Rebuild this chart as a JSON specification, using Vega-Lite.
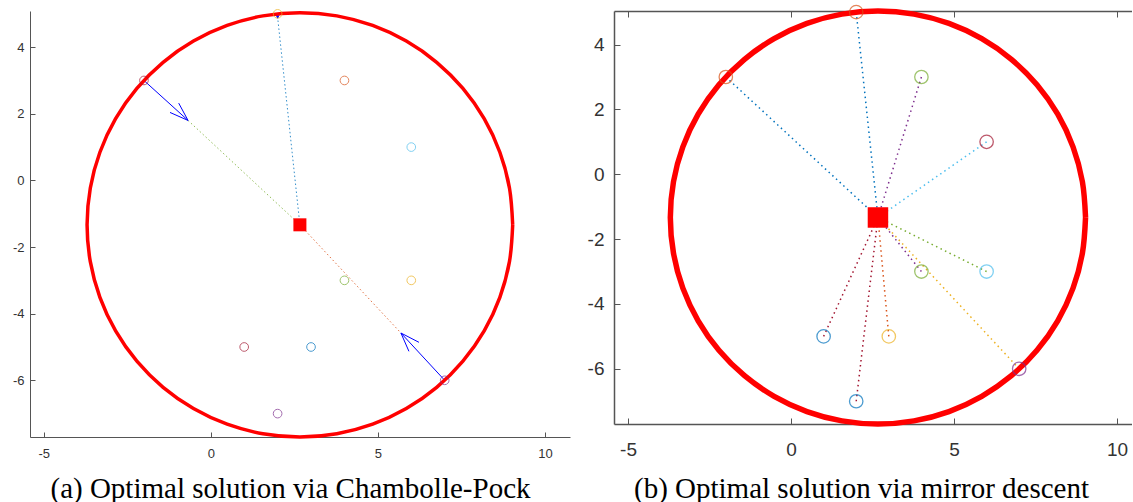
{
  "$schema": "https://vega.github.io/schema/vega-lite/v6.json",
  "padding": {"left": 12, "top": 0, "right": 0, "bottom": 0},
  "background": "white",
  "spacing": 17,
  "config": {"view": {"stroke": null}, "axis": {"grid": false}},
  "datasets": {
    "circle": [
      {"i": 0, "x": 9.035, "y": -1.333}, {"i": 1, "x": 8.938, "y": -0.227}, {"i": 2, "x": 8.651, "y": 0.845},
      {"i": 3, "x": 8.182, "y": 1.851}, {"i": 4, "x": 7.545, "y": 2.760}, {"i": 5, "x": 6.760, "y": 3.545},
      {"i": 6, "x": 5.851, "y": 4.182}, {"i": 7, "x": 4.845, "y": 4.651}, {"i": 8, "x": 3.773, "y": 4.938},
      {"i": 9, "x": 2.667, "y": 5.035}, {"i": 10, "x": 1.561, "y": 4.938}, {"i": 11, "x": 0.489, "y": 4.651},
      {"i": 12, "x": -0.518, "y": 4.182}, {"i": 13, "x": -1.427, "y": 3.545}, {"i": 14, "x": -2.212, "y": 2.760},
      {"i": 15, "x": -2.848, "y": 1.851}, {"i": 16, "x": -3.318, "y": 0.845}, {"i": 17, "x": -3.605, "y": -0.227},
      {"i": 18, "x": -3.702, "y": -1.333}, {"i": 19, "x": -3.605, "y": -2.439}, {"i": 20, "x": -3.318, "y": -3.511},
      {"i": 21, "x": -2.848, "y": -4.518}, {"i": 22, "x": -2.212, "y": -5.427}, {"i": 23, "x": -1.427, "y": -6.212},
      {"i": 24, "x": -0.518, "y": -6.848}, {"i": 25, "x": 0.489, "y": -7.318}, {"i": 26, "x": 1.561, "y": -7.605},
      {"i": 27, "x": 2.667, "y": -7.702}, {"i": 28, "x": 3.773, "y": -7.605}, {"i": 29, "x": 4.845, "y": -7.318},
      {"i": 30, "x": 5.851, "y": -6.848}, {"i": 31, "x": 6.760, "y": -6.212}, {"i": 32, "x": 7.545, "y": -5.427},
      {"i": 33, "x": 8.182, "y": -4.518}, {"i": 34, "x": 8.651, "y": -3.511}, {"i": 35, "x": 8.938, "y": -2.439},
      {"i": 36, "x": 9.035, "y": -1.333}
    ],
    "points": [
      {"x": -2, "y": 3, "ca": 7, "cb": 2, "lb": 1},
      {"x": 2, "y": 5, "ca": 3, "cb": 2, "lb": 1},
      {"x": 4, "y": 3, "ca": 2, "cb": 5, "lb": 4},
      {"x": 6, "y": 1, "ca": 6, "cb": 7, "lb": 6},
      {"x": 4, "y": -3, "ca": 5, "cb": 5, "lb": 4},
      {"x": 6, "y": -3, "ca": 3, "cb": 6, "lb": 5},
      {"x": 1, "y": -5, "ca": 7, "cb": 1, "lb": 7},
      {"x": 3, "y": -5, "ca": 1, "cb": 3, "lb": 2},
      {"x": 7, "y": -6, "ca": 4, "cb": 4, "lb": 3},
      {"x": 2, "y": -7, "ca": 4, "cb": 1, "lb": 7}
    ],
    "center": [{"x": 2.667, "y": -1.333}],
    "left_dots": [
      {"x": 2.667, "y": -1.333, "x2": 2.0, "y2": 4.9, "c": 1},
      {"x": -0.68, "y": 1.8, "x2": 2.667, "y2": -1.333, "c": 5},
      {"x": 2.667, "y": -1.333, "x2": 5.69, "y2": -4.58, "c": 2}
    ],
    "left_arrows": [
      {"x": -2, "y": 3, "x2": -0.68, "y2": 1.8},
      {"x": -0.68, "y": 1.8, "x2": -1.22, "y2": 2.04},
      {"x": -0.68, "y": 1.8, "x2": -0.96, "y2": 2.32},
      {"x": 7, "y": -6, "x2": 5.69, "y2": -4.58},
      {"x": 5.69, "y": -4.58, "x2": 6.23, "y2": -4.86},
      {"x": 5.69, "y": -4.58, "x2": 5.93, "y2": -5.13},
      {"x": 2.0, "y": 5.0, "x2": 2.0, "y2": 4.87},
      {"x": 2.0, "y": 4.87, "x2": 1.95, "y2": 4.98},
      {"x": 2.0, "y": 4.87, "x2": 2.05, "y2": 4.98}
    ]
  },
  "hconcat": [
    {
      "width": 540,
      "height": 426,
      "encoding": {
        "x": {
          "field": "x", "type": "quantitative",
          "scale": {"domain": [-5.41, 10.75], "nice": false, "zero": false},
          "axis": {
            "values": [-5, 0, 5, 10], "tickSize": -5, "domainColor": "#555", "tickColor": "#555",
            "labelExpr": "(datum.value < 0 ? '-' : '') + abs(datum.value)",
            "labelFont": "Liberation Sans", "labelFontSize": 13, "labelColor": "#333", "labelPadding": 15,
            "title": "(a) Optimal solution via Chambolle-Pock",
            "titleFont": "Liberation Serif", "titleFontSize": 29, "titleFontWeight": "normal", "titleColor": "#000",
            "titleX": 260, "titleY": 60, "titleBaseline": "alphabetic", "titleAlign": "center", "titleAnchor": null
          }
        },
        "y": {
          "field": "y", "type": "quantitative",
          "scale": {"domain": [-7.702, 5.085], "nice": false, "zero": false},
          "axis": {
            "values": [-6, -4, -2, 0, 2, 4], "tickSize": -5, "domainColor": "#555", "tickColor": "#555",
            "labelExpr": "(datum.value < 0 ? '-' : '') + abs(datum.value)",
            "labelFont": "Liberation Sans", "labelFontSize": 13, "labelColor": "#333", "labelPadding": 11,
            "title": null
          }
        }
      },
      "layer": [
        {
          "data": {"name": "left_dots"},
          "mark": {"type": "rule", "strokeDash": [1.5, 2.5], "strokeWidth": 1, "opacity": 0.8},
          "encoding": {
            "x2": {"field": "x2"}, "y2": {"field": "y2"},
            "color": {"field": "c", "type": "nominal", "legend": null,
              "scale": {"domain": [1, 2, 3, 4, 5, 6, 7], "range": ["#0072BD", "#D95319", "#EDB120", "#7E2F8E", "#77AC30", "#4DBEEE", "#A2142F"]}}
          }
        },
        {
          "data": {"name": "left_arrows"},
          "mark": {"type": "rule", "strokeWidth": 1, "color": "#0000FF"},
          "encoding": {"x2": {"field": "x2"}, "y2": {"field": "y2"}}
        },
        {
          "data": {"name": "circle"},
          "mark": {"type": "line", "color": "#FF0000", "strokeWidth": 3.5, "interpolate": "cardinal"},
          "encoding": {"order": {"field": "i", "type": "quantitative"}}
        },
        {
          "data": {"name": "points"},
          "mark": {"type": "point", "shape": "circle", "filled": false, "size": 75, "strokeWidth": 1},
          "encoding": {
            "color": {"field": "ca", "type": "nominal", "legend": null,
              "scale": {"domain": [1, 2, 3, 4, 5, 6, 7], "range": ["#0072BD", "#D95319", "#EDB120", "#7E2F8E", "#77AC30", "#4DBEEE", "#A2142F"]}}
          }
        },
        {
          "data": {"name": "center"},
          "mark": {"type": "point", "shape": "square", "filled": true, "size": 169, "color": "#FF0000", "opacity": 1}
        }
      ]
    },
    {
      "width": 518,
      "height": 413,
      "encoding": {
        "y": {
          "field": "y", "type": "quantitative",
          "scale": {"domain": [-7.702, 5.035], "nice": false, "zero": false},
          "axis": {
            "values": [-6, -4, -2, 0, 2, 4], "tickSize": -6, "domainColor": "#555", "tickColor": "#555", "domainWidth": 1.5,
            "labelExpr": "(datum.value < 0 ? '-' : '') + abs(datum.value)",
            "labelFont": "Liberation Sans", "labelFontSize": 19, "labelColor": "#333", "labelPadding": 16,
            "title": null
          }
        }
      },
      "layer": [
        {
          "data": {"name": "points"},
          "mark": {"type": "rule", "strokeDash": [1.5, 3.5], "strokeWidth": 1.5},
          "encoding": {
            "x": {
              "field": "x", "type": "quantitative",
              "scale": {"domain": [-5.43, 10.46], "nice": false, "zero": false},
              "axis": {
                "orient": "bottom",
                "values": [-5, 0, 5, 10], "tickSize": -6, "domainColor": "#555", "tickColor": "#555", "domainWidth": 1.5,
                "labelExpr": "(datum.value < 0 ? '-' : '') + abs(datum.value)",
                "labelFont": "Liberation Sans", "labelFontSize": 19, "labelColor": "#333", "labelPadding": 22,
                "title": "(b) Optimal solution via mirror descent",
                "titleFont": "Liberation Serif", "titleFontSize": 29, "titleFontWeight": "normal", "titleColor": "#000",
                "titleX": 247, "titleY": 73, "titleBaseline": "alphabetic", "titleAlign": "center", "titleAnchor": null
              }
            },
            "x2": {"datum": 2.667}, "y2": {"datum": -1.333},
            "color": {"field": "lb", "type": "nominal", "legend": null,
              "scale": {"domain": [1, 2, 3, 4, 5, 6, 7], "range": ["#0072BD", "#D95319", "#EDB120", "#7E2F8E", "#77AC30", "#4DBEEE", "#A2142F"]}}
          }
        },
        {
          "data": {"name": "circle"},
          "mark": {"type": "line", "color": "#FF0000", "strokeWidth": 5.5, "interpolate": "cardinal"},
          "encoding": {
            "x": {
              "field": "x", "type": "quantitative",
              "scale": {"domain": [-5.43, 10.46], "nice": false, "zero": false},
              "axis": {"orient": "top", "values": [-5, 0, 5, 10], "labels": false, "title": null, "tickSize": -6,
                "domainColor": "#555", "tickColor": "#555", "domainWidth": 1.5}
            },
            "order": {"field": "i", "type": "quantitative"}
          }
        },
        {
          "data": {"name": "points"},
          "mark": {"type": "point", "shape": "circle", "filled": false, "size": 180, "strokeWidth": 1.3},
          "encoding": {
            "x": {"field": "x", "type": "quantitative", "scale": {"domain": [-5.43, 10.46], "nice": false, "zero": false}, "axis": null},
            "color": {"field": "cb", "type": "nominal", "legend": null,
              "scale": {"domain": [1, 2, 3, 4, 5, 6, 7], "range": ["#0072BD", "#D95319", "#EDB120", "#7E2F8E", "#77AC30", "#4DBEEE", "#A2142F"]}}
          }
        },
        {
          "data": {"name": "center"},
          "mark": {"type": "point", "shape": "square", "filled": true, "size": 420, "color": "#FF0000", "opacity": 1},
          "encoding": {
            "x": {"field": "x", "type": "quantitative", "scale": {"domain": [-5.43, 10.46], "nice": false, "zero": false}, "axis": null}
          }
        }
      ]
    }
  ]
}
